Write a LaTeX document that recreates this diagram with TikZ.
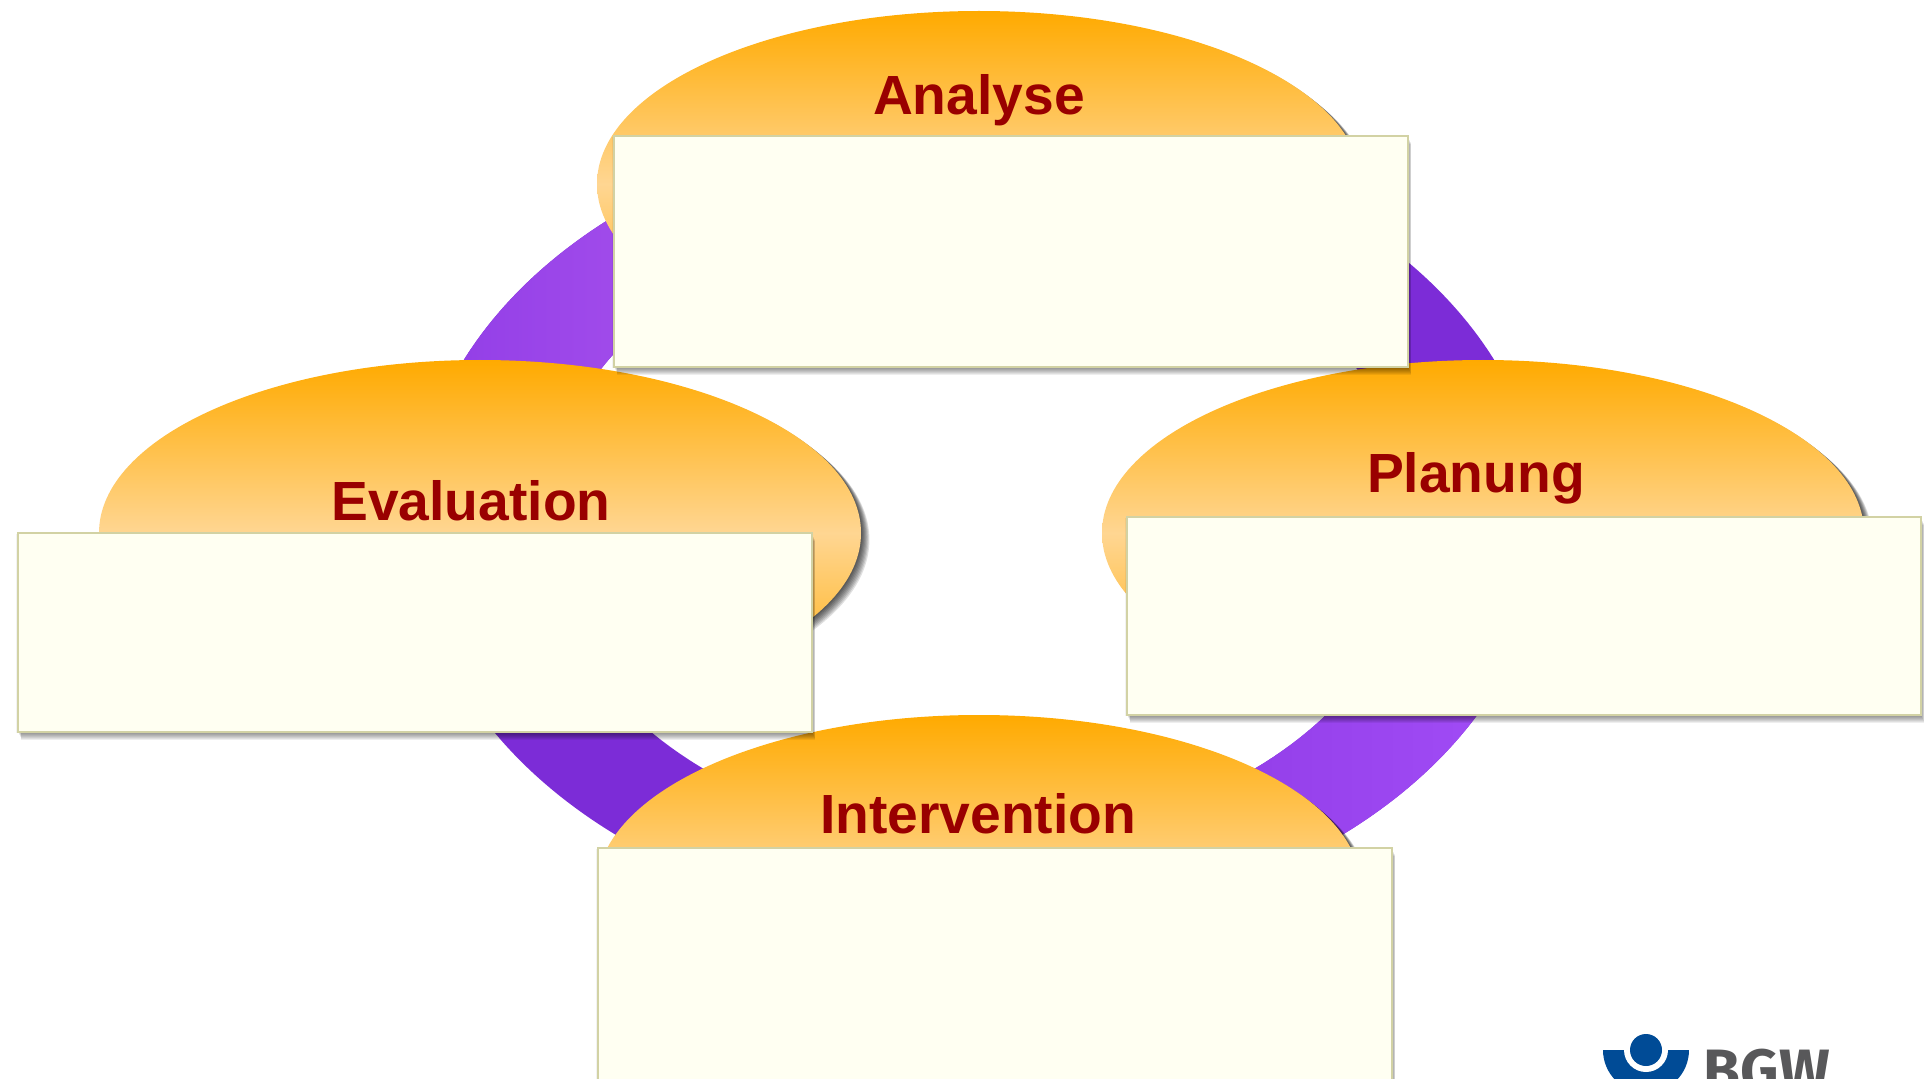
\documentclass[tikz,border=0pt]{standalone}
\usepackage{fontspec}
\setmainfont{Liberation Sans}
\newfontfamily\logofont{Fira Sans}
\usetikzlibrary{shadows}
\definecolor{ringdark}{HTML}{7C2CD7}
\definecolor{cloudedge}{HTML}{FFAA00}
\definecolor{cloudmid}{HTML}{FFD692}
\definecolor{boxfill}{HTML}{FFFFF2}
\definecolor{boxedge}{HTML}{D2D2A4}
\definecolor{labelred}{HTML}{990000}
\definecolor{logoblue}{HTML}{004B96}
\definecolor{logogray}{HTML}{58585A}
\tikzset{
	softshadow/.style={general shadow={shadow xshift=#1,shadow yshift=-0.8*#1,fill=black,opacity=0.12}},
	stagecloud/.style={top color=cloudedge,bottom color=cloudedge,middle color=cloudmid,
		softshadow=0.3pt,softshadow=0.6pt,softshadow=0.9pt,softshadow=1.2pt,softshadow=1.5pt,softshadow=1.8pt,softshadow=2.1pt,softshadow=2.4pt},
	boxshadow/.style={general shadow={shadow xshift=0.4*#1,shadow yshift=-#1,fill=black,opacity=0.065}},
	stagebox/.style={fill=boxfill,draw=boxedge,line width=0.7pt,
		general shadow={shadow xshift=-0.5pt,shadow yshift=-0.3pt,fill=black,opacity=0.05},
		boxshadow=0.3pt,boxshadow=0.6pt,boxshadow=0.9pt,boxshadow=1.2pt,boxshadow=1.5pt,boxshadow=1.8pt,boxshadow=2.1pt,boxshadow=2.4pt},
	stagelabel/.style={font=\fontsize{15.7}{18}\selectfont\bfseries,text=labelred,inner sep=0pt}
}
\newcommand{\ringpath}{(979,525) ellipse [x radius=564,y radius=405] (979,525) ellipse [x radius=435,y radius=315]}
\begin{document}
\begin{tikzpicture}[x=0.01cm,y=-0.01cm]
	\useasboundingbox (0,0) rectangle (1926,1079);
	\clip (0,0) rectangle (1926,1079);
	\fill[ringdark,even odd rule] \ringpath;
	\begin{scope}
		\clip (0,0) rectangle (979,525);
		\shade[even odd rule,left color={rgb,255:red,144;green,60;blue,230},right color={rgb,255:red,234;green,142;blue,255}] \ringpath;
	\end{scope}
	\begin{scope}
		\clip (979,525) rectangle (1926,1079);
		\shade[even odd rule,left color={rgb,255:red,107;green,22;blue,192},right color={rgb,255:red,163;green,78;blue,248}] \ringpath;
	\end{scope}
	\path[stagecloud] (979,184) ellipse [x radius=382,y radius=173];
	\path[stagecloud] (480,533) ellipse [x radius=381,y radius=173];
	\path[stagecloud] (1483,533) ellipse [x radius=381,y radius=173];
	\path[stagecloud] (979,888) ellipse [x radius=382,y radius=173];
	\draw[stagebox] (614,136) rectangle (1408,367);
	\draw[stagebox] (18,533) rectangle (812,732);
	\draw[stagebox] (1127,517) rectangle (1921,715);
	\draw[stagebox] (598,848) rectangle (1392,1120);
	\node[stagelabel] (analyse) at (979,100) {Analyse};
	\node[stagelabel] (evaluation) at (471,501) {Evaluation};
	\node[stagelabel] (planung) at (1476,478) {Planung};
	\node[stagelabel] (intervention) at (978,814) {Intervention};
	% logo
	\fill[logoblue] (1603,1050) arc[start angle=180,end angle=0,radius=43] -- cycle;
	\fill[white] (1646,1050) circle(22);
	\fill[logoblue] (1646,1050) circle(16);
	\node[font=\logofont\fontsize{17}{19}\selectfont\bfseries,text=logogray,inner sep=0pt,anchor=base west] (bgw) at (1703,1091) {BGW};
\end{tikzpicture}
\end{document}
